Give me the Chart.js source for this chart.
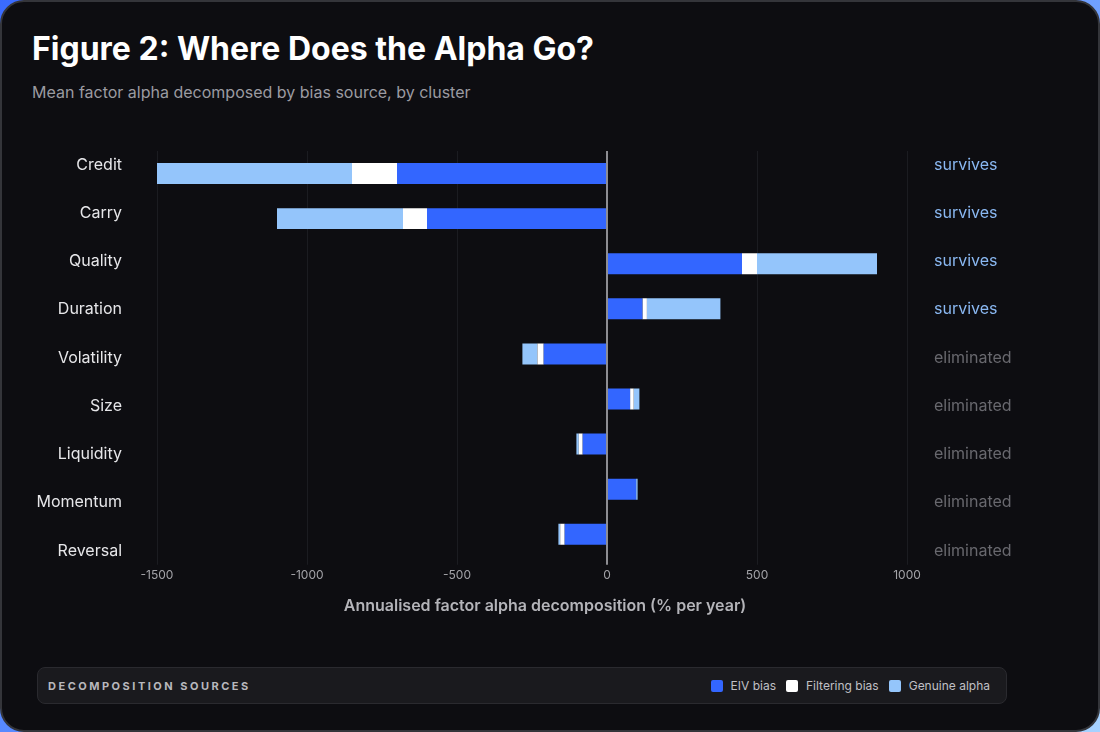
<!DOCTYPE html>
<html>
<head>
<meta charset="utf-8">
<script src="https://cdn.jsdelivr.net/npm/chart.js@4.4.1/dist/chart.umd.min.js"></script>
<style>
  html, body { margin: 0; padding: 0; }
  body {
    width: 1100px; height: 732px; overflow: hidden;
    background: linear-gradient(135deg, #3a6bff 0%, #5b8dff 45%, #a6d2ff 100%);
    font-family: Inter, "Noto Sans", sans-serif;
  }
  .card {
    position: relative; width: 1100px; height: 732px; box-sizing: border-box;
    border: 2px solid #34353a; border-radius: 24px; background: #0d0d11; overflow: hidden;
  }
  h1 {
    position: absolute; left: 30px; top: 29px; margin: 0;
    font-size: 32px; line-height: 36px; font-weight: 700; color: #ffffff;
  }
  .sub {
    position: absolute; left: 30px; top: 80px; margin: 0;
    font-size: 16px; line-height: 20px; color: #9b9ba1;
  }
  .chart-wrap { position: absolute; left: -2px; top: 118px; width: 1090px; height: 502px; }
  .legend {
    position: absolute; left: 35px; top: 665px; width: 970px; height: 37px; box-sizing: border-box;
    border: 1px solid #2a2a2f; border-radius: 8px; background: #1a1a1e;
    display: flex; align-items: center; justify-content: space-between; padding: 0 16px 0 10px;
  }
  .legend .name { font-size: 11px; font-weight: 700; letter-spacing: 2.5px; color: #b8b8bd; }
  .legend .items { display: flex; align-items: center; }
  .legend .item { display: flex; align-items: center; margin-left: 10px; font-size: 12px; color: #c0c0c5; }
  .legend .sw { width: 12px; height: 12px; border-radius: 2px; margin-right: 8px; }
</style>
</head>
<body>
<div class="card">
  <h1>Figure 2: Where Does the Alpha Go?</h1>
  <p class="sub">Mean factor alpha decomposed by bias source, by cluster</p>
  <div class="chart-wrap"><canvas id="chart_alpha"></canvas></div>
  <div class="legend">
    <span class="name">DECOMPOSITION SOURCES</span>
    <span class="items" id="legend_items"></span>
  </div>
</div>
<script>
  var categories = ["Credit", "Carry", "Quality", "Duration", "Volatility", "Size", "Liquidity", "Momentum", "Reversal"];
  var statuses = ["survives", "survives", "survives", "survives", "eliminated", "eliminated", "eliminated", "eliminated", "eliminated"];
  var eivBias = [-700, -600, 450, 118, -211, 77, -81, 97, -141];
  var filteringBias = [-150, -80, 50, 15, -21, 12, -13, 0, -15];
  var genuineAlpha = [-650, -420, 400, 245, -50, 19, -8, 5, -6];
  var seriesNames = ["EIV bias", "Filtering bias", "Genuine alpha"];
  var seriesColors = ["#3366ff", "#ffffff", "#94c5fb"];
  var xTicks = [-1500, -1000, -500, 0, 500, 1000];

  var seriesValues = [eivBias, filteringBias, genuineAlpha];

  // legend box (html, like the original)
  var legendHtml = "";
  seriesNames.forEach(function (n, i) {
    legendHtml += '<span class="item"><span class="sw" style="background:' + seriesColors[i] + '"></span>' + n + '</span>';
  });
  document.getElementById("legend_items").innerHTML = legendHtml;

  var datasets = seriesNames.map(function (n, i) {
    return {
      label: n,
      data: seriesValues[i],
      backgroundColor: seriesColors[i],
      borderWidth: 0,
      barPercentage: 0.93,
      categoryPercentage: 0.5,
      xAxisID: "x",
      yAxisID: "y"
    };
  });

  // text-only axes for the row names (left) and the verdicts (right)
  const labelAxis = (position, labels, padding, color) => {
    return {
      type: "linear",
      position: position,
      reverse: true,
      offset: false,
      min: -0.29,
      max: 8.124,
      grid: { display: false, drawTicks: false, offset: false },
      border: { display: false },
      afterBuildTicks: (scale) => {
        scale.ticks = labels.map((l, i) => ({ value: i }));
      },
      afterFit: (scale) => {
        scale.width = position === "left" ? 157 : 183;
        scale.paddingTop = 0;
        scale.paddingBottom = 0;
      },
      ticks: {
        padding: padding,
        color: color,
        font: { family: "Inter", size: 16 },
        callback: (v) => labels[v] !== undefined ? labels[v] : ""
      }
    };
  };

  var ctx = document.getElementById("chart_alpha").getContext("2d");
  var alphaChart = new Chart(ctx, {
    type: "bar",
    data: { labels: categories, datasets: datasets },
    options: {
      indexAxis: "y",
      responsive: true,
      maintainAspectRatio: false,
      animation: false,
      layout: { padding: { top: 31, left: 0, right: 0, bottom: 0 } },
      plugins: {
        legend: { display: false },
        tooltip: { enabled: false },
        title: {
          display: true,
          position: "bottom",
          text: "Annualised factor alpha decomposition (% per year)",
          color: "#b4b4b9",
          font: { family: "Inter", size: 16, weight: "600" },
          padding: { top: 0, bottom: 6 }
        }
      },
      scales: {
        x: {
          stacked: true,
          min: -1500,
          max: 1000,
          afterBuildTicks: (scale) => {
            scale.ticks = xTicks.map((v) => ({ value: v }));
          },
          afterFit: (scale) => { scale.height = 40; },
          grid: {
            drawTicks: true,
            tickLength: 8,
            color: (c) => c.tick && c.tick.value === 0 ? "#8d8d92" : "#1b1c21",
            lineWidth: (c) => c.tick && c.tick.value === 0 ? 2 : 1
          },
          border: { display: false },
          ticks: {
            padding: 3,
            color: "#a3a3a8",
            font: { family: "Inter", size: 12 },
            callback: (v) => String(v)
          }
        },
        y: {
          type: "category",
          stacked: true,
          display: false
        },
        yL: labelAxis("left", categories, 35, "#e6e6e9"),
        yR: labelAxis("right", statuses, 27, (c) => statuses[c.index] === "survives" ? "#8ab8f2" : "#68686e")
      }
    }
  });
</script>
</body>
</html>
